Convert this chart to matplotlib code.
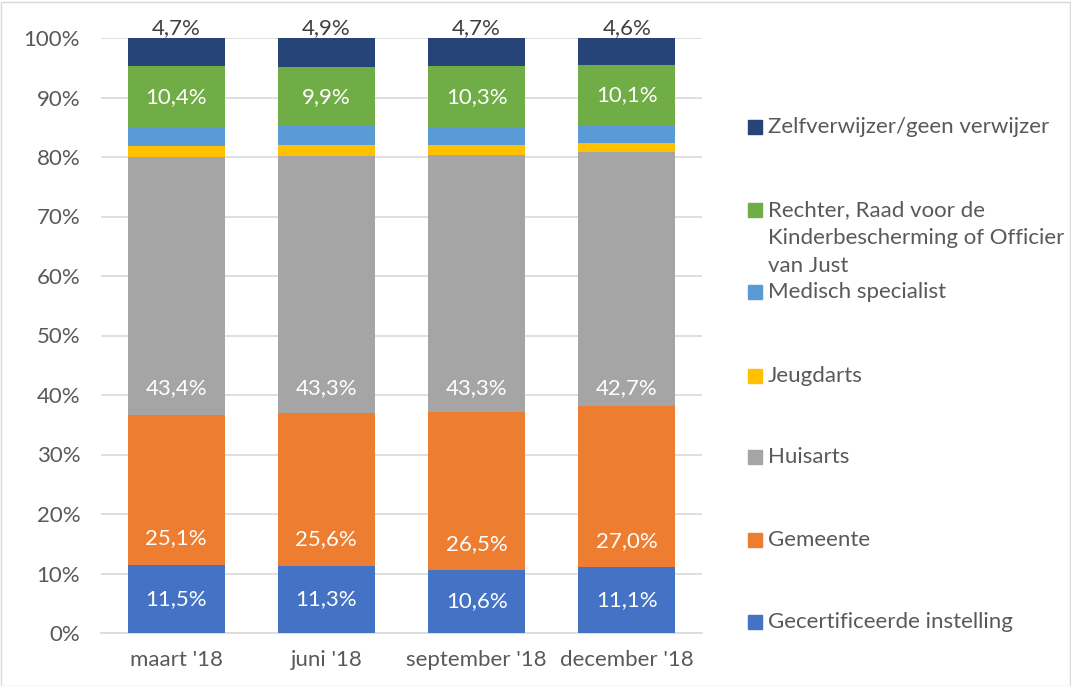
import matplotlib
matplotlib.use("Agg")
import matplotlib.pyplot as plt
from matplotlib.patches import Rectangle

plt.rcParams['font.family'] = ['Lato', 'DejaVu Sans']

categories = ["maart '18", "juni '18", "september '18", "december '18"]
series_names = [
    "Gecertificeerde instelling",
    "Gemeente",
    "Huisarts",
    "Jeugdarts",
    "Medisch specialist",
    "Rechter, Raad voor de\nKinderbescherming of Officier\nvan Just",
    "Zelfverwijzer/geen verwijzer",
]
gecertificeerde = [11.5, 11.3, 10.6, 11.1]
gemeente = [25.1, 25.6, 26.5, 27.0]
huisarts = [43.4, 43.3, 43.3, 42.7]
jeugdarts = [1.8, 1.8, 1.6, 1.6]
medisch = [3.1, 3.2, 3.0, 2.9]
rechter = [10.4, 9.9, 10.3, 10.1]
zelf = [4.7, 4.9, 4.7, 4.6]
series = [gecertificeerde, gemeente, huisarts, jeugdarts, medisch, rechter, zelf]
colors = ["#4472C4", "#ED7D31", "#A5A5A5", "#FFC000", "#5B9BD5", "#70AD47", "#264478"]
labelled = [True, True, True, False, False, True, True]

text_color = "#595959"
fs = 16
fig = plt.figure(figsize=(10.71, 6.86), dpi=100)
ax = fig.add_axes([101/1071, 1-633/686, 601/1071, 595/686])

x = list(range(len(categories)))
bottoms = [0.0]*len(categories)
bar_w = 0.645
for si, vals in enumerate(series):
    ax.bar(x, vals, bottom=bottoms, width=bar_w, color=colors[si], zorder=3, linewidth=0)
    if labelled[si]:
        for i, v in enumerate(vals):
            lab = f"{v:.1f}%".replace('.', ',')
            if si == 6:
                ax.text(i, bottoms[i] + v + 1.7, lab, ha='center', va='center',
                        color="#404040", fontsize=fs, zorder=5)
            else:
                if si == 2:
                    y = 41.2
                elif si == 1:
                    y = bottoms[i] + 4.4
                else:
                    y = bottoms[i] + v/2
                ax.text(i, y, lab, ha='center', va='center', color='white',
                        fontsize=fs, zorder=5)
    bottoms = [b + v for b, v in zip(bottoms, vals)]

ax.set_xlim(-0.5, len(categories)-0.5)
ax.set_ylim(0, 100)
ax.set_yticks(range(0, 101, 10))
ax.set_yticklabels([f"{t}%" for t in range(0, 101, 10)])
ax.set_xticks(x)
ax.set_xticklabels(categories)
ax.grid(axis='y', color='#D9D9D9', linewidth=1.2, zorder=0)
for s in ['top', 'right', 'left']:
    ax.spines[s].set_visible(False)
ax.spines['bottom'].set_color('#D9D9D9')
ax.spines['bottom'].set_linewidth(1.2)
ax.tick_params(axis='both', length=0, labelsize=fs, colors=text_color)
ax.tick_params(axis='y', pad=15)
ax.tick_params(axis='x', pad=12)

# Legend (manual, top to bottom)
legend_y = [127, 210, 292, 376, 457, 540, 622]
order = [6, 5, 4, 3, 2, 1, 0]
for yy, si in zip(legend_y, order):
    fy = 1 - yy/686
    fig.patches.append(Rectangle((748/1071, fy - 7/686), 14/1071, 14/686,
                                 transform=fig.transFigure, color=colors[si], figure=fig))
    lines = series_names[si].split('\n')
    for li, ln in enumerate(lines):
        fig.text(768/1071, 1 - (yy + li*28)/686, ln, ha='left', va='center',
                 fontsize=fs, color=text_color)

fig.patches.append(Rectangle((0.5/1071, 0.5/686), 1 - 2/1071, 1 - 2/686, transform=fig.transFigure,
                             fill=False, edgecolor='#D9D9D9', linewidth=1, figure=fig))

fig.savefig("out.png", dpi=100)
